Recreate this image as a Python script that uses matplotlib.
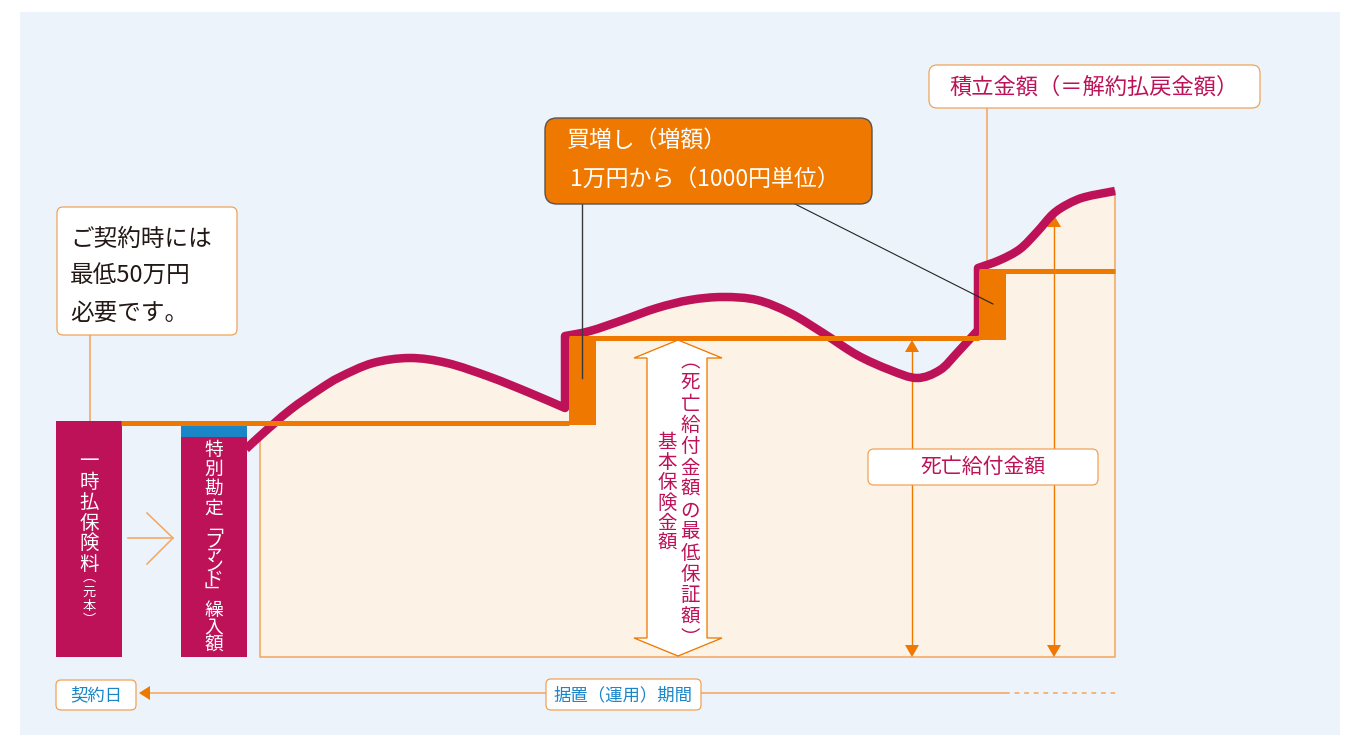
import matplotlib
matplotlib.use("Agg")
import matplotlib.pyplot as plt
from matplotlib.patches import Rectangle, FancyBboxPatch, Polygon, PathPatch
from matplotlib.path import Path
import numpy as np

plt.rcParams['font.family'] = ['Noto Sans CJK JP', 'DejaVu Sans']

# ---------------- data (pixel units) ----------------
curve_x = [246, 260, 290, 320, 340, 373, 410, 447, 490, 530, 565, 565, 590, 623,
           657, 690, 723, 757, 790, 823, 857, 890, 917, 940, 957, 978, 978, 1000,
           1020, 1037, 1053, 1068, 1085, 1115]
curve_y = [449, 436, 410, 389, 377, 363, 358, 363, 377, 393, 408, 336, 331, 320,
           308, 300, 297, 300, 313, 333, 355, 370, 378, 370, 353, 330, 268, 260,
           249, 232, 214, 204, 197, 191]
step_edges = [121, 569, 979, 1115]
step_levels = [423, 338, 271]
premium_top = 421
fund_top = 425
fund_blue_bottom = 437
base_y = 657
death_arrow_tops = [340, 215]

lbl_premium = "一時払保険料"
lbl_premium_small = "︵元本︶"
lbl_fund = ["特別勘定", "﹁ファンド﹂", "繰入額"]
lbl_min_guarantee = "︵死亡給付金額の最低保証額︶"
lbl_basic = "基本保険金額"
lbl_death = "死亡給付金額"
lbl_accum = "積立金額（＝解約払戻金額）"
lbl_topup = ["買増し（増額）", "1万円から（1000円単位）"]
lbl_min = ["ご契約時には", "最低50万円", "必要です。"]
lbl_contract = "契約日"
lbl_period = "据置（運用）期間"

# ---------------- colours ----------------
BG = "#EDF3FA"
CRIMSON = "#BE1258"
ORANGE = "#EE7800"
LORANGE = "#F4A862"
CREAM = "#FDF2E6"
BLUE = "#1A86C8"

W, H = 1354, 735
fig = plt.figure(figsize=(W / 100, H / 100), dpi=100)
fig.patch.set_facecolor("white")
ax = fig.add_axes([0, 0, 1, 1])
ax.set_xlim(0, W)
ax.set_ylim(H, 0)
ax.axis("off")
renderer = fig.canvas.get_renderer()

PT = 0.72  # px -> pt

ax.add_patch(Rectangle((20, 12), 1320, 730, facecolor=BG, edgecolor="none", zorder=0))


# ---------------- smooth path through the read points ----------------
def smooth_pieces(xs, ys):
    """Split at vertical jumps; return list of point arrays."""
    pts = np.column_stack([xs, ys]).astype(float)
    pieces, cur = [], [pts[0]]
    for i in range(1, len(pts)):
        if pts[i][0] == pts[i - 1][0]:
            pieces.append(np.array(cur))
            cur = [pts[i]]
        else:
            cur.append(pts[i])
    pieces.append(np.array(cur))
    return pieces


def bezier_segments(p):
    segs = []
    n = len(p)
    for i in range(n - 1):
        p0 = p[i - 1] if i > 0 else p[i]
        p1, p2 = p[i], p[i + 1]
        p3 = p[i + 2] if i + 2 < n else p[i + 1]
        c1 = p1 + (p2 - p0) / 6.0
        c2 = p2 - (p3 - p1) / 6.0
        segs.append((c1, c2, p2))
    return segs


pieces = smooth_pieces(curve_x, curve_y)
verts, codes = [], []
for k, pc in enumerate(pieces):
    verts.append(pc[0]); codes.append(Path.MOVETO if k == 0 else Path.LINETO)
    for c1, c2, pe in bezier_segments(pc):
        verts += [c1, c2, pe]; codes += [Path.CURVE4] * 3
curve_path = Path(verts, codes)

# fill path: start from the second read point (left edge of area)
fverts, fcodes = [], []
for k, pc in enumerate(pieces):
    segs = bezier_segments(pc)
    if k == 0:
        fverts.append(pc[1]); fcodes.append(Path.MOVETO)
        segs = segs[1:]
    else:
        fverts.append(pc[0]); fcodes.append(Path.LINETO)
    for c1, c2, pe in segs:
        fverts += [c1, c2, pe]; fcodes += [Path.CURVE4] * 3
left_x, left_y = curve_x[1], curve_y[1]
right_x, right_y = curve_x[-1], curve_y[-1]
fverts += [(right_x, base_y), (left_x, base_y), (left_x, left_y)]
fcodes += [Path.LINETO, Path.LINETO, Path.CLOSEPOLY]
ax.add_patch(PathPatch(Path(fverts, fcodes), facecolor=CREAM, edgecolor="none", zorder=1))
ax.plot([left_x, left_x, right_x, right_x], [left_y, base_y, base_y, right_y],
        color=LORANGE, lw=1.6 * PT, zorder=2)

# ---------------- bars ----------------
ax.add_patch(Rectangle((56, premium_top), 66, base_y - premium_top, facecolor=CRIMSON,
                       edgecolor="none", zorder=3))
ax.add_patch(Rectangle((181, fund_top), 66, base_y - fund_top, facecolor=CRIMSON,
                       edgecolor="none", zorder=3))
ax.add_patch(Rectangle((181, fund_top), 66, fund_blue_bottom - fund_top, facecolor=BLUE,
                       edgecolor="none", zorder=3))


def vcol(x, yc, text, fs, color, span):
    """Vertical (tategaki) column: one text, line spacing fitted to the span."""
    t = ax.text(x, yc, "\n".join(text), fontsize=fs, color=color, ha="center",
                va="center", multialignment="center", linespacing=1.0, zorder=8)
    if len(text) < 2:
        return t
    h1 = t.get_window_extent(renderer).height
    t.set_linespacing(2.0)
    h2 = t.get_window_extent(renderer).height
    b = h2 - h1
    a = h1 - b
    t.set_linespacing(max(0.5, (span - a) / b))
    return t


vcol(89, 513, lbl_premium, 14, "white", 124)
vcol(89, 599, lbl_premium_small, 9.5, "white", 56)
vcol(214, 479, lbl_fund[0], 13.5, "white", 79)
vcol(214, 560, lbl_fund[1], 13.5, "white", 84)
vcol(214, 628, lbl_fund[2], 13.5, "white", 56)

# chevron arrow between bars
ax.plot([128, 173], [538, 538], color=LORANGE, lw=1.6 * PT, zorder=3)
ax.plot([147, 173, 147], [513, 538, 564], color=LORANGE, lw=1.6 * PT, zorder=3)

# ---------------- big hollow double arrow ----------------
dx = 678
arrow_poly = [(dx, 340), (dx + 44, 358), (dx + 29, 358), (dx + 29, 638), (dx + 44, 638),
              (dx, 656), (dx - 44, 638), (dx - 31, 638), (dx - 31, 358), (dx - 44, 358)]
ax.add_patch(Polygon(arrow_poly, closed=True, facecolor="white", edgecolor=ORANGE,
                     lw=1.3 * PT, zorder=3))
vcol(690, 500, lbl_min_guarantee, 14, CRIMSON, 298)
vcol(667, 493, lbl_basic, 14, CRIMSON, 122)

# ---------------- death benefit arrows ----------------
for xa, top in zip([912, 1054], death_arrow_tops):
    ax.plot([xa, xa], [top + 8, base_y - 8], color=ORANGE, lw=1.4 * PT, zorder=3)
    ax.add_patch(Polygon([(xa, top), (xa + 7, top + 12), (xa - 7, top + 12)],
                         facecolor=ORANGE, edgecolor="none", zorder=3))
    ax.add_patch(Polygon([(xa, base_y), (xa + 7, base_y - 12), (xa - 7, base_y - 12)],
                         facecolor=ORANGE, edgecolor="none", zorder=3))

# ---------------- account value curve ----------------
ax.add_patch(PathPatch(curve_path, facecolor="none", edgecolor=CRIMSON, lw=8.5 * PT,
                       joinstyle="round", capstyle="butt", zorder=4))

# ---------------- step line (death benefit) + top-ups ----------------
for i, lev in enumerate(step_levels):
    ax.plot([step_edges[i], step_edges[i + 1]], [lev, lev], color=ORANGE, lw=5 * PT,
            solid_capstyle="butt", zorder=5)
for i in range(1, len(step_levels)):
    xe = step_edges[i]
    ax.add_patch(Rectangle((xe, step_levels[i]), 27, step_levels[i - 1] - step_levels[i] + 2,
                           facecolor=ORANGE, edgecolor="none", zorder=5))


# ---------------- boxes ----------------
def box(x0, y0, w, h, fc, ec, lw=1.2, r=6, z=7):
    ax.add_patch(FancyBboxPatch((x0, y0), w, h, boxstyle=f"round,pad=0,rounding_size={r}",
                                facecolor=fc, edgecolor=ec, lw=lw * PT, zorder=z))


# minimum premium note
ax.plot([90, 90], [335, premium_top], color=LORANGE, lw=1.6 * PT, zorder=2)
box(57, 207, 180, 128, "white", "#F0A050")
for i, t in enumerate(lbl_min):
    ax.text(70, 239 + 37 * i, t, fontsize=17, color="#231815", ha="left", va="center",
            zorder=8)

# top-up callout
ax.plot([582, 582], [204, 378], color="#3A3A3A", lw=1.4 * PT, zorder=6)
ax.plot([795, 993], [204, 304], color="#222222", lw=1.1 * PT, zorder=6)
box(545, 118, 327, 86, ORANGE, "#555555", lw=1.4, r=12)
ax.text(567, 141, lbl_topup[0], fontsize=16.5, color="white", ha="left", va="center", zorder=8)
ax.text(570, 179, lbl_topup[1], fontsize=16.5, color="white", ha="left", va="center", zorder=8)

# accumulated value label
ax.plot([987, 987], [108, 268], color=LORANGE, lw=1.6 * PT, zorder=2)
box(929, 65, 331, 43, "white", "#F0A050", r=8)
ax.text(1094, 87, lbl_accum, fontsize=16, color=CRIMSON, ha="center", va="center", zorder=8)

# death benefit label
box(868, 449, 230, 36, "white", "#F0A050", r=6)
ax.text(983, 467, lbl_death, fontsize=15, color=CRIMSON, ha="center", va="center", zorder=8)

# ---------------- timeline ----------------
ax.plot([148, 1005], [693, 693], color=LORANGE, lw=1.6 * PT, zorder=2)
ax.plot([1005, 1115], [693, 693], color=LORANGE, lw=1.6 * PT, ls=(0, (3, 3)), zorder=2)
ax.add_patch(Polygon([(139, 693), (150, 686), (150, 700)], facecolor=ORANGE,
                     edgecolor="none", zorder=3))
box(56, 680, 80, 30, "white", "#F0A050", r=5)
ax.text(96, 695, lbl_contract, fontsize=12.5, color=BLUE, ha="center", va="center", zorder=8)
box(546, 679, 155, 31, "white", "#F0A050", r=5)
ax.text(623, 695, lbl_period, fontsize=12.5, color=BLUE, ha="center", va="center", zorder=8)

fig.savefig("out.png", dpi=100, facecolor=fig.get_facecolor())
